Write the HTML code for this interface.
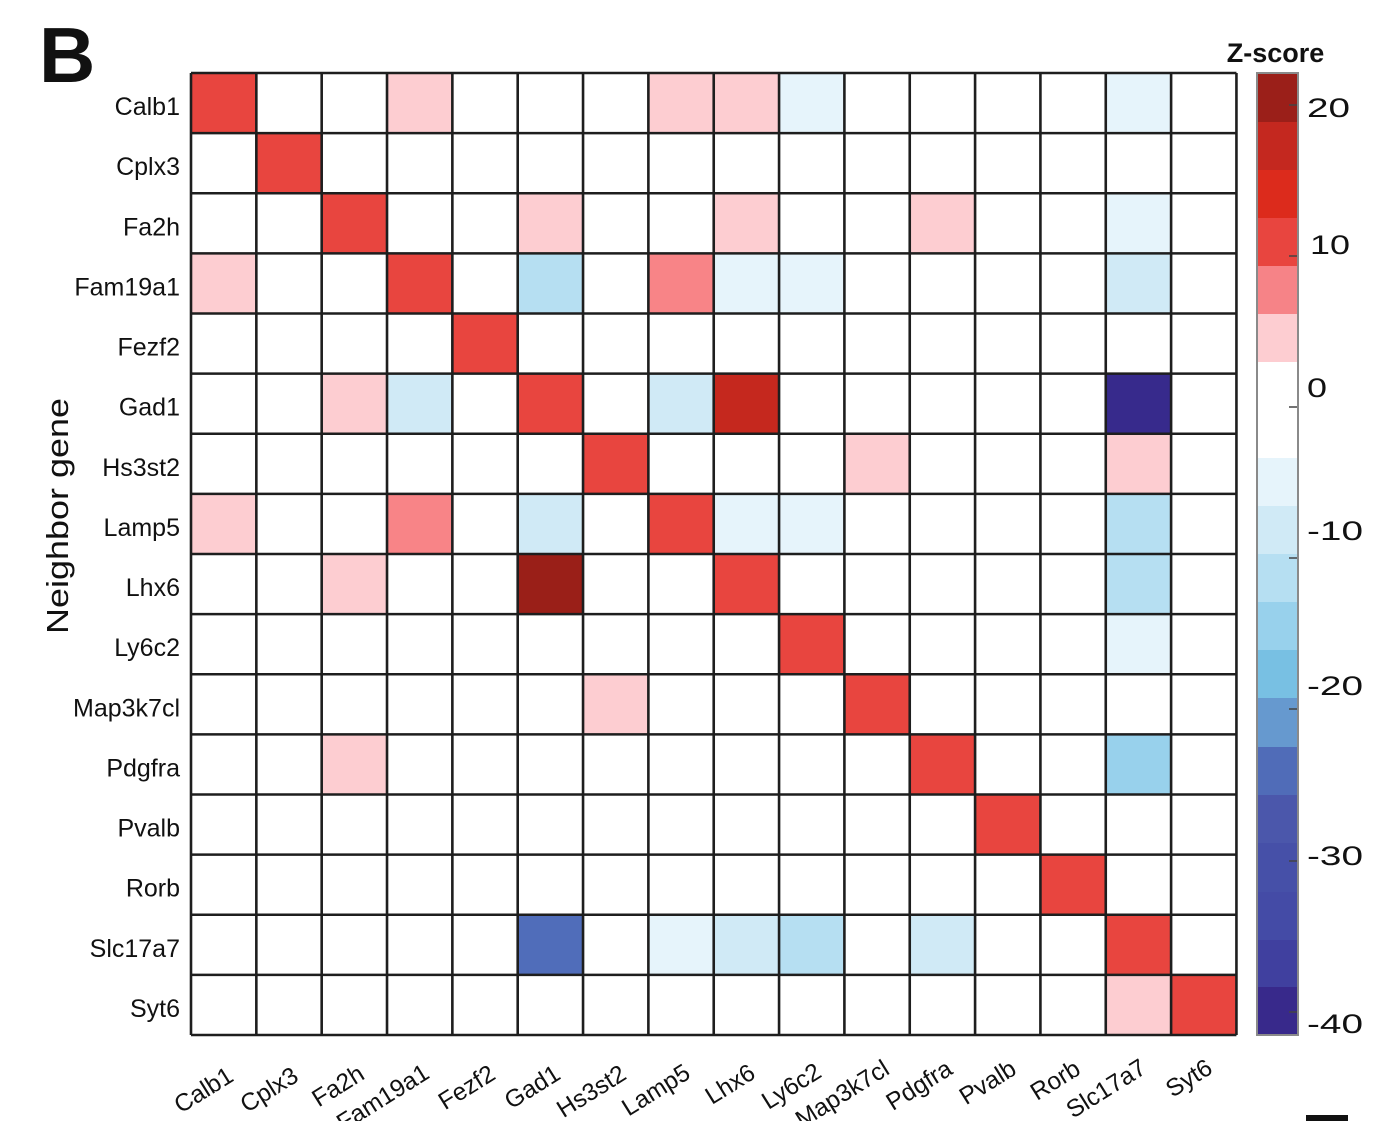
<!DOCTYPE html>
<html>
<head>
<meta charset="utf-8">
<style>
  html,body{margin:0;padding:0;background:#fff;}
  svg{display:block;}
  text{font-family:"Liberation Sans", Arial, sans-serif;fill:#111;}
</style>
</head>
<body>
<svg width="1376" height="1121" viewBox="0 0 1376 1121" xmlns="http://www.w3.org/2000/svg">
  <rect x="0" y="0" width="1376" height="1121" fill="#fff"/>

  <!-- Panel letter -->
  <text x="39" y="82" font-size="78" font-weight="bold" fill="#111">B</text>

  <!-- Heatmap cells -->
  <g shape-rendering="crispEdges">
    <!-- row 0 -->
    <rect x="191" y="73" width="65.34" height="60.13" fill="#e8453f"/>
    <rect x="387.02" y="73" width="65.34" height="60.13" fill="#fdcdd1"/>
    <rect x="648.38" y="73" width="65.34" height="60.13" fill="#fdcdd1"/>
    <rect x="713.72" y="73" width="65.34" height="60.13" fill="#fdcdd1"/>
    <rect x="779.06" y="73" width="65.34" height="60.13" fill="#e6f4fb"/>
    <rect x="1105.76" y="73" width="65.34" height="60.13" fill="#e6f4fb"/>
    <!-- row 1 -->
    <rect x="256.34" y="133.13" width="65.34" height="60.13" fill="#e8453f"/>
    <!-- row 2 -->
    <rect x="321.68" y="193.25" width="65.34" height="60.13" fill="#e8453f"/>
    <rect x="517.7" y="193.25" width="65.34" height="60.13" fill="#fdcdd1"/>
    <rect x="713.72" y="193.25" width="65.34" height="60.13" fill="#fdcdd1"/>
    <rect x="909.74" y="193.25" width="65.34" height="60.13" fill="#fdcdd1"/>
    <rect x="1105.76" y="193.25" width="65.34" height="60.13" fill="#e6f4fb"/>
    <!-- row 3 -->
    <rect x="191" y="253.38" width="65.34" height="60.13" fill="#fdcdd1"/>
    <rect x="387.02" y="253.38" width="65.34" height="60.13" fill="#e8453f"/>
    <rect x="517.7" y="253.38" width="65.34" height="60.13" fill="#b6dff2"/>
    <rect x="648.38" y="253.38" width="65.34" height="60.13" fill="#f88487"/>
    <rect x="713.72" y="253.38" width="65.34" height="60.13" fill="#e6f4fb"/>
    <rect x="779.06" y="253.38" width="65.34" height="60.13" fill="#e6f4fb"/>
    <rect x="1105.76" y="253.38" width="65.34" height="60.13" fill="#d0eaf6"/>
    <!-- row 4 -->
    <rect x="452.36" y="313.5" width="65.34" height="60.13" fill="#e8453f"/>
    <!-- row 5 -->
    <rect x="321.68" y="373.63" width="65.34" height="60.13" fill="#fdcdd1"/>
    <rect x="387.02" y="373.63" width="65.34" height="60.13" fill="#d0eaf6"/>
    <rect x="517.7" y="373.63" width="65.34" height="60.13" fill="#e8453f"/>
    <rect x="648.38" y="373.63" width="65.34" height="60.13" fill="#d0eaf6"/>
    <rect x="713.72" y="373.63" width="65.34" height="60.13" fill="#c5281e"/>
    <rect x="1105.76" y="373.63" width="65.34" height="60.13" fill="#372a8c"/>
    <!-- row 6 -->
    <rect x="583.04" y="433.75" width="65.34" height="60.13" fill="#e8453f"/>
    <rect x="844.4" y="433.75" width="65.34" height="60.13" fill="#fdcdd1"/>
    <rect x="1105.76" y="433.75" width="65.34" height="60.13" fill="#fdcdd1"/>
    <!-- row 7 -->
    <rect x="191" y="493.88" width="65.34" height="60.13" fill="#fdcdd1"/>
    <rect x="387.02" y="493.88" width="65.34" height="60.13" fill="#f88487"/>
    <rect x="517.7" y="493.88" width="65.34" height="60.13" fill="#d0eaf6"/>
    <rect x="648.38" y="493.88" width="65.34" height="60.13" fill="#e8453f"/>
    <rect x="713.72" y="493.88" width="65.34" height="60.13" fill="#e6f4fb"/>
    <rect x="779.06" y="493.88" width="65.34" height="60.13" fill="#e6f4fb"/>
    <rect x="1105.76" y="493.88" width="65.34" height="60.13" fill="#b6dff2"/>
    <!-- row 8 -->
    <rect x="321.68" y="554" width="65.34" height="60.13" fill="#fdcdd1"/>
    <rect x="517.7" y="554" width="65.34" height="60.13" fill="#9a1f18"/>
    <rect x="713.72" y="554" width="65.34" height="60.13" fill="#e8453f"/>
    <rect x="1105.76" y="554" width="65.34" height="60.13" fill="#b6dff2"/>
    <!-- row 9 -->
    <rect x="779.06" y="614.13" width="65.34" height="60.13" fill="#e8453f"/>
    <rect x="1105.76" y="614.13" width="65.34" height="60.13" fill="#e6f4fb"/>
    <!-- row 10 -->
    <rect x="583.04" y="674.25" width="65.34" height="60.13" fill="#fdcdd1"/>
    <rect x="844.4" y="674.25" width="65.34" height="60.13" fill="#e8453f"/>
    <!-- row 11 -->
    <rect x="321.68" y="734.38" width="65.34" height="60.13" fill="#fdcdd1"/>
    <rect x="909.74" y="734.38" width="65.34" height="60.13" fill="#e8453f"/>
    <rect x="1105.76" y="734.38" width="65.34" height="60.13" fill="#98d1ec"/>
    <!-- row 12 -->
    <rect x="975.08" y="794.5" width="65.34" height="60.13" fill="#e8453f"/>
    <!-- row 13 -->
    <rect x="1040.42" y="854.63" width="65.34" height="60.13" fill="#e8453f"/>
    <!-- row 14 -->
    <rect x="517.7" y="914.75" width="65.34" height="60.13" fill="#506dba"/>
    <rect x="648.38" y="914.75" width="65.34" height="60.13" fill="#e6f4fb"/>
    <rect x="713.72" y="914.75" width="65.34" height="60.13" fill="#d0eaf6"/>
    <rect x="779.06" y="914.75" width="65.34" height="60.13" fill="#b6dff2"/>
    <rect x="909.74" y="914.75" width="65.34" height="60.13" fill="#d0eaf6"/>
    <rect x="1105.76" y="914.75" width="65.34" height="60.13" fill="#e8453f"/>
    <!-- row 15 -->
    <rect x="1105.76" y="974.88" width="65.34" height="60.13" fill="#fdcdd1"/>
    <rect x="1171.1" y="974.88" width="65.34" height="60.13" fill="#e8453f"/>
  </g>

  <!-- Grid lines -->
  <g stroke="#1e1e1e" stroke-width="2.6" fill="none">
    <path d="M191 73V1035 M256.34 73V1035 M321.68 73V1035 M387.02 73V1035 M452.36 73V1035 M517.7 73V1035 M583.04 73V1035 M648.38 73V1035 M713.72 73V1035 M779.06 73V1035 M844.4 73V1035 M909.74 73V1035 M975.08 73V1035 M1040.42 73V1035 M1105.76 73V1035 M1171.1 73V1035 M1236.44 73V1035"/>
    <path d="M191 73H1236.44 M191 133.13H1236.44 M191 193.25H1236.44 M191 253.38H1236.44 M191 313.5H1236.44 M191 373.63H1236.44 M191 433.75H1236.44 M191 493.88H1236.44 M191 554H1236.44 M191 614.13H1236.44 M191 674.25H1236.44 M191 734.38H1236.44 M191 794.5H1236.44 M191 854.63H1236.44 M191 914.75H1236.44 M191 974.88H1236.44 M191 1035H1236.44"/>
  </g>

  <!-- Row labels -->
  <g font-size="25" text-anchor="end">
    <text x="180" y="115">Calb1</text>
    <text x="180" y="175.2">Cplx3</text>
    <text x="180" y="235.3">Fa2h</text>
    <text x="180" y="295.4">Fam19a1</text>
    <text x="180" y="355.6">Fezf2</text>
    <text x="180" y="415.7">Gad1</text>
    <text x="180" y="475.8">Hs3st2</text>
    <text x="180" y="535.9">Lamp5</text>
    <text x="180" y="596.1">Lhx6</text>
    <text x="180" y="656.2">Ly6c2</text>
    <text x="180" y="716.3">Map3k7cl</text>
    <text x="180" y="776.4">Pdgfra</text>
    <text x="180" y="836.6">Pvalb</text>
    <text x="180" y="896.7">Rorb</text>
    <text x="180" y="956.8">Slc17a7</text>
    <text x="180" y="1016.9">Syt6</text>
  </g>

  <!-- Y axis title -->
  <text transform="translate(68,516) rotate(-90)" font-size="31" text-anchor="middle" textLength="236" lengthAdjust="spacingAndGlyphs">Neighbor gene</text>

  <!-- Column labels (rotated) -->
  <g font-size="24.5" text-anchor="end">
    <text transform="translate(235,1080) rotate(-32)">Calb1</text>
    <text transform="translate(300,1080) rotate(-32)">Cplx3</text>
    <text transform="translate(366,1078) rotate(-32)">Fa2h</text>
    <text transform="translate(431,1077) rotate(-32)">Fam19a1</text>
    <text transform="translate(497,1078) rotate(-32)">Fezf2</text>
    <text transform="translate(562,1078) rotate(-32)">Gad1</text>
    <text transform="translate(628,1078) rotate(-32)">Hs3st2</text>
    <text transform="translate(692,1077) rotate(-32)">Lamp5</text>
    <text transform="translate(757,1077) rotate(-32)">Lhx6</text>
    <text transform="translate(823,1076) rotate(-32)">Ly6c2</text>
    <text transform="translate(891,1073) rotate(-32)">Map3k7cl</text>
    <text transform="translate(954,1073) rotate(-32)">Pdgfra</text>
    <text transform="translate(1018,1073) rotate(-32)">Pvalb</text>
    <text transform="translate(1082,1073) rotate(-32)">Rorb</text>
    <text transform="translate(1148,1072) rotate(-32)">Slc17a7</text>
    <text transform="translate(1214,1072) rotate(-32)">Syt6</text>
  </g>

  <!-- Colorbar title -->
  <text x="1275.5" y="62" font-size="27" font-weight="bold" text-anchor="middle">Z-score</text>

  <!-- Colorbar -->
  <g shape-rendering="crispEdges">
    <rect x="1257" y="73" width="41" height="49" fill="#9b1f19"/>
    <rect x="1257" y="122" width="41" height="48" fill="#c4281f"/>
    <rect x="1257" y="170" width="41" height="48" fill="#dc2b1c"/>
    <rect x="1257" y="218" width="41" height="48" fill="#e8453f"/>
    <rect x="1257" y="266" width="41" height="48" fill="#f68387"/>
    <rect x="1257" y="314" width="41" height="48" fill="#fdcdd1"/>
    <rect x="1257" y="362" width="41" height="96" fill="#ffffff"/>
    <rect x="1257" y="458" width="41" height="48" fill="#e6f4fb"/>
    <rect x="1257" y="506" width="41" height="48" fill="#d0eaf6"/>
    <rect x="1257" y="554" width="41" height="48" fill="#b6dff2"/>
    <rect x="1257" y="602" width="41" height="48" fill="#98d1ec"/>
    <rect x="1257" y="650" width="41" height="48" fill="#78c0e3"/>
    <rect x="1257" y="698" width="41" height="49" fill="#6699cf"/>
    <rect x="1257" y="747" width="41" height="48" fill="#506cb8"/>
    <rect x="1257" y="795" width="41" height="48" fill="#4b57ab"/>
    <rect x="1257" y="843" width="41" height="49" fill="#4650a8"/>
    <rect x="1257" y="892" width="41" height="48" fill="#444ba6"/>
    <rect x="1257" y="940" width="41" height="47" fill="#40409f"/>
    <rect x="1257" y="987" width="41" height="48" fill="#38298b"/>
  </g>
  <rect x="1257" y="73" width="41" height="962" fill="none" stroke="#8a8a8a" stroke-width="2"/>
  <!-- Colorbar ticks -->
  <g stroke="#444" stroke-width="1.6">
    <path d="M1289 105H1297 M1289 256H1297 M1289 407H1297 M1289 558H1297 M1289 709H1297 M1289 861H1297 M1289 1012H1297"/>
  </g>
  <!-- Colorbar labels -->
  <g font-size="27">
    <text x="1307" y="117" textLength="43" lengthAdjust="spacingAndGlyphs">20</text>
    <text x="1310" y="254" textLength="40" lengthAdjust="spacingAndGlyphs">10</text>
    <text x="1307" y="397" textLength="20" lengthAdjust="spacingAndGlyphs">0</text>
    <text x="1307" y="540" textLength="56" lengthAdjust="spacingAndGlyphs">-10</text>
    <text x="1307" y="695" textLength="56" lengthAdjust="spacingAndGlyphs">-20</text>
    <text x="1307" y="865" textLength="56" lengthAdjust="spacingAndGlyphs">-30</text>
    <text x="1307" y="1033" textLength="56" lengthAdjust="spacingAndGlyphs">-40</text>
  </g>

  <!-- small scale bar bottom right -->
  <rect x="1306" y="1115" width="42" height="6" fill="#111"/>
</svg>
</body>
</html>
